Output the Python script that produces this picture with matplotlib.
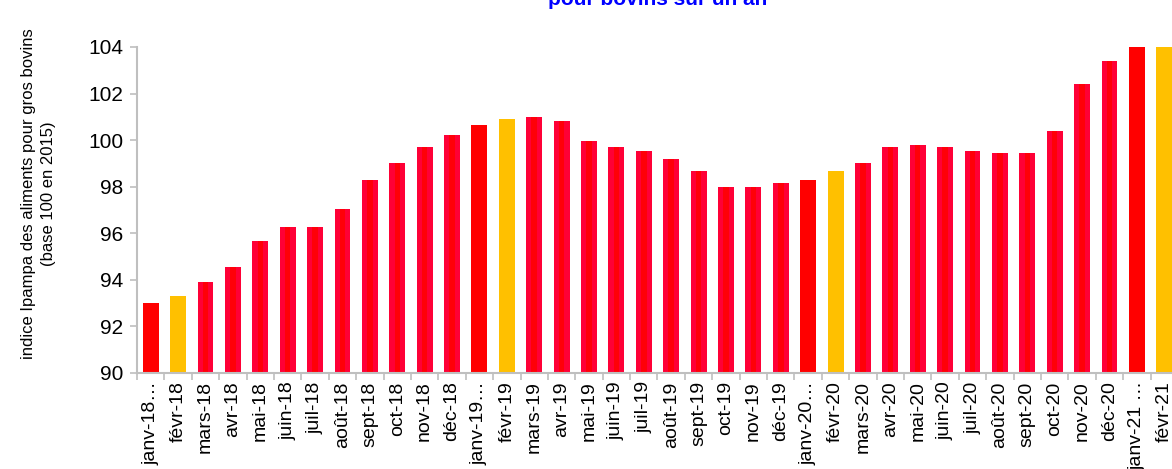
import matplotlib
matplotlib.use("Agg")
import matplotlib.pyplot as plt

plt.rcParams['font.family'] = ['Liberation Sans', 'DejaVu Sans']

months = ["janv-18…", "févr-18", "mars-18", "avr-18", "mai-18", "juin-18", "juil-18",
          "août-18", "sept-18", "oct-18", "nov-18", "déc-18",
          "janv-19…", "févr-19", "mars-19", "avr-19", "mai-19", "juin-19", "juil-19",
          "août-19", "sept-19", "oct-19", "nov-19", "déc-19",
          "janv-20…", "févr-20", "mars-20", "avr-20", "mai-20", "juin-20", "juil-20",
          "août-20", "sept-20", "oct-20", "nov-20", "déc-20",
          "janv-21 …", "févr-21"]

values = [93.0, 93.3, 93.9, 94.55, 95.67, 96.27, 96.27, 97.04, 98.3, 99.02, 99.7, 100.22,
          100.65, 100.9, 101.0, 100.82, 99.96, 99.7, 99.53, 99.19, 98.67, 98.0, 98.0, 98.18,
          98.27, 98.67, 99.02, 99.7, 99.78, 99.7, 99.53, 99.45, 99.44, 100.4, 102.4, 103.42,
          104.4, 104.6]

# janvier en rouge vif, février en jaune, le reste rouge avec bords carmin
outer, inner = [], []
for m in months:
    if m.startswith("janv"):
        outer.append("#FF0000")
        inner.append("#FF0000")
    elif m.startswith("févr"):
        outer.append("#FFC000")
        inner.append("#FFC000")
    else:
        outer.append("#FF0036")
        inner.append("#FF0008")

fig = plt.figure(figsize=(11.72, 4.69), dpi=100)
ax = fig.add_axes([137 / 1172, 1 - 373 / 469, 1041 / 1172, 326 / 469])

x = list(range(len(months)))
ax.bar(x, values, width=0.58, color=outer, zorder=2)
ax.bar(x, values, width=0.2, color=inner, zorder=2.1)

ax.set_ylim(90, 104)
ax.set_xlim(-0.5, len(months) - 0.5)
ax.set_yticks(range(90, 105, 2))
ax.set_xticks(x)
ax.set_xticklabels(months, rotation=90, fontsize=14)
ax.tick_params(axis='x', length=0, pad=6)
ax.set_xticks([i - 0.5 for i in range(len(months) + 1)], minor=True)
ax.tick_params(axis='x', which='minor', length=5, color='#BFBFBF', width=1.2)
ax.tick_params(axis='y', labelsize=15, length=5, color='#BFBFBF', width=1.2, pad=5)

for side in ['top', 'right']:
    ax.spines[side].set_visible(False)
for side in ['left', 'bottom']:
    ax.spines[side].set_color('#BFBFBF')
    ax.spines[side].set_linewidth(1.5)
    ax.spines[side].set_zorder(3)

ax.set_ylabel("indice Ipampa des aliments pour gros bovins\n(base 100 en 2015)",
              fontsize=12, linespacing=1.4)
ax.yaxis.set_label_coords(-0.078, 0.55)

fig.text(0.561, 1 - 5 / 469, "pour bovins sur un an", color="#0000FF",
         fontsize=15, fontweight='bold', ha='center', va='baseline')

fig.savefig("out.png", dpi=100)
